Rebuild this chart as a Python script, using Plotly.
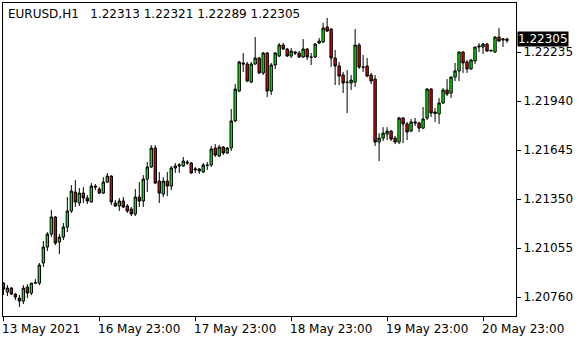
import plotly.graph_objects as go

symbol_title = "EURUSD,H1\u00a0\u00a0\u00a01.22313 1.22321 1.22289 1.22305"
last_price = 1.22305

opens = [1.20844,1.20790,1.20814,1.20778,1.20754,1.20736,1.20820,1.20784,1.20844,1.20844,
 1.20965,1.21061,1.21139,1.21242,1.21091,1.21121,1.21181,1.21278,1.21392,1.21326,
 1.21386,1.21356,1.21332,1.21428,1.21410,1.21386,1.21452,1.21488,1.21326,1.21308,
 1.21338,1.21308,1.21290,1.21260,1.21362,1.21338,1.21470,1.21543,1.21657,1.21458,
 1.21380,1.21458,1.21428,1.21537,1.21549,1.21549,1.21573,1.21567,1.21525,1.21531,
 1.21513,1.21555,1.21555,1.21657,1.21609,1.21663,1.21627,1.21657,1.21820,1.22000,
 1.22169,1.22163,1.22054,1.22163,1.22199,1.22109,1.22229,1.22000,1.22157,1.22211,
 1.22277,1.22253,1.22211,1.22235,1.22229,1.22205,1.22253,1.22205,1.22205,1.22289,
 1.22295,1.22385,1.22373,1.22199,1.22151,1.22097,1.22054,1.22048,1.22054,1.22277,
 1.22145,1.22151,1.22097,1.22072,1.21693,1.21717,1.21741,1.21759,1.21717,1.21693,
 1.21838,1.21802,1.21759,1.21814,1.21808,1.21777,1.21838,1.22012,1.21865,1.21862,
 1.21928,1.22006,1.21988,1.22084,1.22121,1.22235,1.22175,1.22133,1.22181,1.22265,
 1.22265,1.22283,1.22241,1.22235,1.22325,1.22307,1.22313]

highs = [1.20850,1.20832,1.20820,1.20784,1.20772,1.20832,1.20838,1.20844,1.20868,1.20965,
 1.21097,1.21151,1.21284,1.21248,1.21139,1.21206,1.21362,1.21434,1.21464,1.21416,
 1.21422,1.21374,1.21446,1.21440,1.21422,1.21482,1.21507,1.21494,1.21344,1.21356,
 1.21362,1.21320,1.21302,1.21410,1.21452,1.21494,1.21573,1.21675,1.21675,1.21513,
 1.21482,1.21513,1.21549,1.21567,1.21567,1.21603,1.21585,1.21573,1.21543,1.21537,
 1.21567,1.21573,1.21669,1.21681,1.21675,1.21669,1.21663,1.21892,1.22042,1.22181,
 1.22229,1.22175,1.22175,1.22325,1.22205,1.22235,1.22235,1.22169,1.22235,1.22289,
 1.22289,1.22259,1.22259,1.22241,1.22241,1.22313,1.22259,1.22229,1.22289,1.22319,
 1.22410,1.22440,1.22379,1.22247,1.22175,1.22115,1.22127,1.22097,1.22373,1.22289,
 1.22217,1.22199,1.22109,1.22097,1.21747,1.21783,1.21783,1.21765,1.21729,1.21844,
 1.21844,1.21814,1.21832,1.21838,1.21814,1.21904,1.22018,1.22018,1.21898,1.21958,
 1.22018,1.22072,1.22090,1.22169,1.22238,1.22241,1.22187,1.22193,1.22265,1.22289,
 1.22289,1.22289,1.22247,1.22330,1.22379,1.22319,1.22321]

lows = [1.20772,1.20766,1.20772,1.20742,1.20700,1.20718,1.20754,1.20772,1.20838,1.20832,
 1.20941,1.21037,1.21121,1.21073,1.21019,1.21103,1.21151,1.21266,1.21302,1.21308,
 1.21326,1.21320,1.21330,1.21404,1.21380,1.21380,1.21446,1.21314,1.21302,1.21278,
 1.21296,1.21266,1.21248,1.21248,1.21302,1.21302,1.21392,1.21537,1.21440,1.21326,
 1.21362,1.21368,1.21404,1.21507,1.21507,1.21543,1.21555,1.21501,1.21507,1.21501,
 1.21507,1.21525,1.21543,1.21603,1.21603,1.21615,1.21621,1.21639,1.21814,1.21994,
 1.22115,1.22054,1.22048,1.22157,1.22103,1.22097,1.21964,1.21976,1.22133,1.22205,
 1.22247,1.22205,1.22199,1.22217,1.22199,1.22199,1.22187,1.22157,1.22199,1.22283,
 1.22289,1.22355,1.22145,1.22036,1.22036,1.21988,1.21868,1.22006,1.22024,1.22133,
 1.22115,1.22084,1.22042,1.21669,1.21579,1.21699,1.21705,1.21699,1.21681,1.21681,
 1.21687,1.21705,1.21753,1.21789,1.21753,1.21771,1.21826,1.21844,1.21814,1.21802,
 1.21922,1.21970,1.21958,1.22060,1.22060,1.22109,1.22109,1.22127,1.22163,1.22235,
 1.22223,1.22235,1.22235,1.22229,1.22295,1.22265,1.22289]

closes = [1.20808,1.20814,1.20778,1.20760,1.20736,1.20814,1.20784,1.20844,1.20846,1.20953,
 1.21061,1.21139,1.21242,1.21085,1.21121,1.21181,1.21278,1.21398,1.21332,1.21386,
 1.21356,1.21338,1.21428,1.21422,1.21386,1.21452,1.21488,1.21332,1.21308,1.21338,
 1.21302,1.21278,1.21260,1.21362,1.21338,1.21470,1.21543,1.21657,1.21446,1.21386,
 1.21458,1.21428,1.21537,1.21549,1.21555,1.21579,1.21567,1.21507,1.21531,1.21519,
 1.21555,1.21553,1.21651,1.21615,1.21663,1.21627,1.21657,1.21820,1.22012,1.22175,
 1.22163,1.22060,1.22163,1.22199,1.22109,1.22229,1.22000,1.22157,1.22229,1.22277,
 1.22253,1.22211,1.22241,1.22229,1.22205,1.22253,1.22205,1.22203,1.22283,1.22301,
 1.22379,1.22361,1.22199,1.22151,1.22090,1.22048,1.22052,1.22066,1.22277,1.22145,
 1.22143,1.22090,1.22060,1.21693,1.21717,1.21747,1.21759,1.21711,1.21693,1.21838,
 1.21802,1.21753,1.21814,1.21808,1.21777,1.21832,1.22012,1.21868,1.21874,1.21928,
 1.22006,1.21982,1.22084,1.22121,1.22235,1.22169,1.22133,1.22187,1.22265,1.22271,
 1.22283,1.22241,1.22245,1.22325,1.22301,1.22313,1.22305]

bar_index = list(range(len(opens)))
time_tick_pos = [0, 24, 48, 72, 96, 120]
time_tick_labels = ["13 May 2021", "16 May 23:00", "17 May 23:00", "18 May 23:00",
                    "19 May 23:00", "20 May 23:00"]
price_ticks = [1.20760, 1.21055, 1.21350, 1.21645, 1.21940, 1.22235]

FONT = "DejaVu Sans"

fig = go.Figure(go.Candlestick(
    x=bar_index, open=opens, high=highs, low=lows, close=closes,
    increasing=dict(line=dict(color="black", width=1), fillcolor="#00F000"),
    decreasing=dict(line=dict(color="black", width=1), fillcolor="#E00000"),
    whiskerwidth=0, hoverinfo="skip", showlegend=False,
))

annotations = [
    dict(text=symbol_title, xref="paper", yref="paper", x=0, y=1, xanchor="left",
         yanchor="top", xshift=3, yshift=-2, showarrow=False,
         font=dict(family=FONT, size=12, color="black")),
    dict(text="1.22305", xref="paper", yref="y", x=1, y=last_price, xanchor="left",
         yanchor="middle", xshift=1, yshift=1, showarrow=False, bgcolor="black",
         borderpad=0,
         font=dict(family=FONT, size=12, color="white")),
]
for pos, lab in zip(time_tick_pos, time_tick_labels):
    annotations.append(dict(text=lab, xref="x", yref="paper", x=pos, y=0,
                            xanchor="left", yanchor="top", xshift=-3, yshift=-4,
                            showarrow=False,
                            font=dict(family=FONT, size=12, color="black")))

fig.update_layout(
    width=580, height=340,
    margin=dict(l=3, r=64, t=3, b=24),
    paper_bgcolor="white", plot_bgcolor="white",
    boxgap=0.15,
    annotations=annotations,
    xaxis=dict(range=[-0.1, 128.25], rangeslider=dict(visible=False),
               showgrid=False, zeroline=False, showline=True, mirror=True,
               linecolor="black", linewidth=1,
               tickmode="array", tickvals=time_tick_pos, ticktext=[""] * 6,
               ticks="outside", ticklen=4, tickcolor="black"),
    yaxis=dict(range=[1.20646, 1.22530], side="right",
               showgrid=False, zeroline=False, showline=True, mirror=True,
               linecolor="black", linewidth=1,
               tickmode="array", tickvals=price_ticks,
               ticktext=[f"{v:.5f}" for v in price_ticks],
               ticks="outside", ticklen=4, tickcolor="black",
               tickfont=dict(family=FONT, size=12, color="black")),
)

fig.write_html("out.html")
